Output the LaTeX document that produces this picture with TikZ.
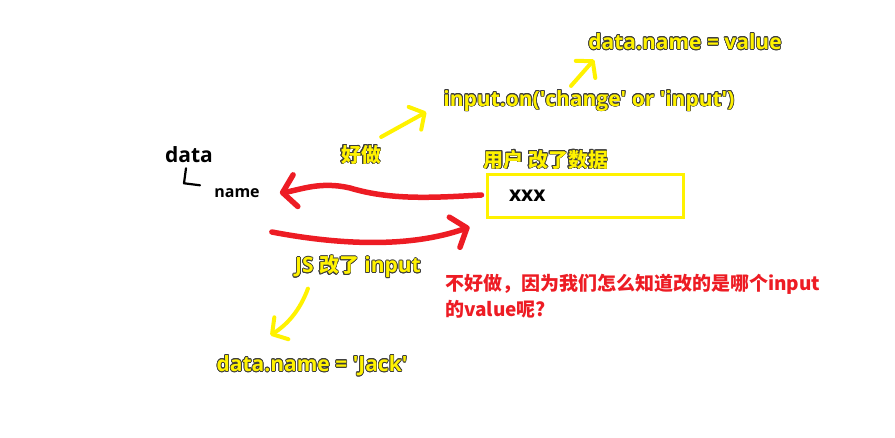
\documentclass[tikz,border=0pt]{standalone}
\usepackage{xcolor}
\usepackage{fontspec}
\usepackage[copies]{contour}
\usepackage{tikz}
\usetikzlibrary{arrows.meta,positioning,calc}
\setmainfont{Open Sans}
\newfontfamily\cjk{Noto Sans CJK SC}[Scale=0.95]
\definecolor{markyellow}{RGB}{255,242,0}
\definecolor{markred}{RGB}{237,28,36}
\definecolor{outlinegray}{RGB}{60,60,60}
\contourlength{0.7pt}
\contournumber{16}
\newcommand{\ylw}[1]{\contour{outlinegray}{#1}}
\newcommand{\sq}{\textquotesingle}

\begin{document}
\begin{tikzpicture}[x=1pt,y=-1pt,
    every node/.style={font=\bfseries\fontsize{21pt}{23pt}\selectfont},
    yellowtext/.style={text=markyellow, inner sep=2pt},
    blacktext/.style={text=black, inner sep=2pt},
    redtext/.style={text=markred, align=left, inner sep=0pt,
        font=\bfseries\fontsize{20pt}{26pt}\selectfont},
    inputbox/.style={draw=markyellow, line width=3pt, minimum height=43pt,
        text width=152pt, inner xsep=22pt, align=left},
    redarrow/.style={draw=markred, line width=5.5pt, line cap=round,
        -{Straight Barb[length=13pt,width=32pt,round]}},
    yellowarrow/.style={draw=markyellow, line width=4pt, line cap=round,
        -{Straight Barb[length=11pt,width=26pt,round]}}]
    \useasboundingbox (0,0) rectangle (895,438);

    \node[blacktext] (data) at (189,155) {data};
    \node[blacktext, font=\bfseries\fontsize{16pt}{18pt}\selectfont] (name) at (237,193) {name};
    \draw[line width=2.2pt, line cap=round, line join=round]
        ([xshift=-3pt,yshift=-3pt]data.south) -- ++(-2,15) -- ++(16,2);

    \node[blacktext, inputbox] (inputbox) at (585,196) {xxx};
    \node[yellowtext] (userchange) at (546,160) {\ylw{\cjk 用户 改了数据}};

    \node[yellowtext] (haozuo) at (361,155) {\ylw{\cjk 好做}};
    \node[yellowtext] (inputon) at (589,101) {\ylw{input.on(\sq change\sq{} or \sq input\sq)}};
    \node[yellowtext] (datavalue) at (685,42) {\ylw{data.name = value}};

    \node[yellowtext] (jschange) at (358,267) {\ylw{JS {\cjk 改了} input}};
    \node[yellowtext] (jack) at (312,366) {\ylw{data.name = \sq Jack\sq}};
    \node[redtext, anchor=north west] (question) at (445,274)
        {\cjk 不好做，因为我们怎么知道改的是哪个input\\\cjk 的value呢?};

    \draw[redarrow] ([xshift=-4pt,yshift=1pt]inputbox.west)
        .. controls (430,198) and (390,200) .. (350,188)
        .. controls (320,181) and (300,190) .. ([xshift=18pt]name.east);
    \draw[redarrow] ([xshift=10pt,yshift=-39pt]name.east)
        .. controls (340,245) and (410,248) .. ([xshift=-16pt,yshift=-8pt]inputbox.south west);

    \draw[yellowarrow] ([xshift=-2pt,yshift=6pt]haozuo.north east) -- ([xshift=-15pt,yshift=-11pt]inputon.west);
    \draw[yellowarrow] ([xshift=-18pt,yshift=2pt]inputon.north) -- ([xshift=8pt,yshift=-7pt]datavalue.south west);
    \draw[yellowarrow] ([xshift=15pt,yshift=-8pt]jschange.south west)
        .. controls (300,310) and (288,324) .. ([xshift=56pt,yshift=18pt]jack.north west);
\end{tikzpicture}
\end{document}
